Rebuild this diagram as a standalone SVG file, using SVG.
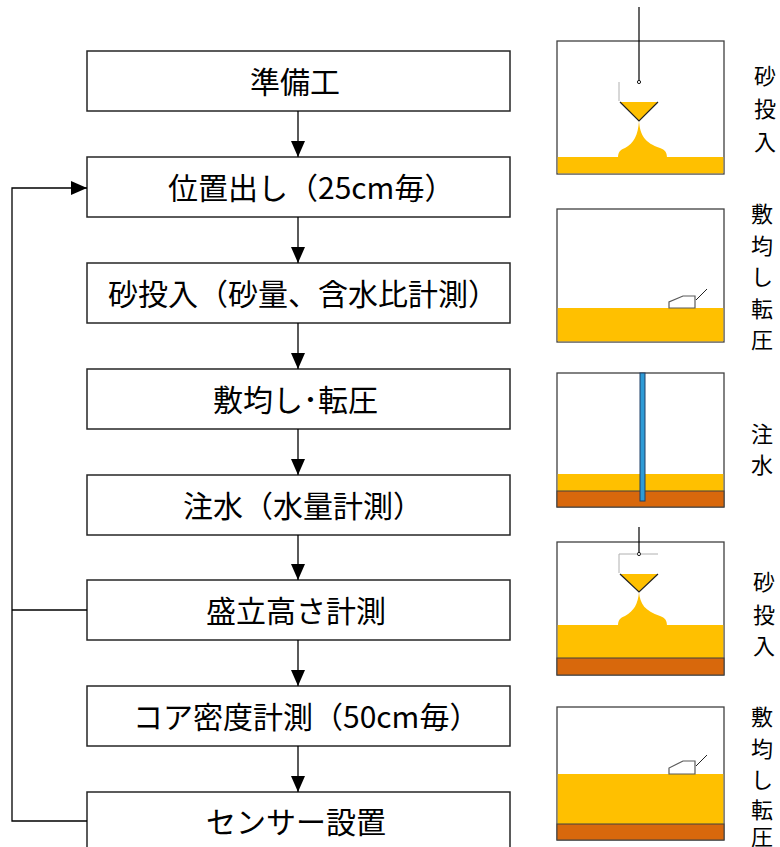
<svg xmlns="http://www.w3.org/2000/svg" width="780" height="847" viewBox="0 0 780 847">
  <defs>
    <style>
      .box { fill: #ffffff; stroke: #262626; stroke-width: 1.5; }
      .label { font-family: "Noto Sans CJK JP", "Noto Sans", sans-serif; font-size: 30px; fill: #000; dominant-baseline: central; }
      .vlabel { font-family: "Noto Sans CJK JP", "Noto Sans", sans-serif; font-size: 22px; fill: #000; text-anchor: middle; dominant-baseline: central; }
      .conn { fill: none; stroke: #000; stroke-width: 1.3; }
      .frame { fill: #ffffff; stroke: #404040; stroke-width: 1.3; }
      .sand { fill: #FFC000; }
      .base { fill: #D8680C; stroke: #404040; stroke-width: 1; }
      .roller { fill: #ffffff; stroke: #5a5a5a; stroke-width: 1.2; }
      .guide { fill: none; stroke: #b0b0b0; stroke-width: 1; }
    </style>
    <marker id="arrow" viewBox="0 0 16 14" refX="16" refY="7" markerWidth="16" markerHeight="14" markerUnits="userSpaceOnUse" orient="auto">
      <path d="M0,0 L16,7 L0,14 Z" fill="#000"/>
    </marker>
  </defs>

  <!-- flow steps -->
  <g id="step1"><rect class="box" x="87" y="51" width="423" height="60"/><text class="label" x="250" y="80">準備工</text></g>
  <g id="step2"><rect class="box" x="87" y="157" width="423" height="60"/><text class="label" x="168" y="186">位置出し（25cm毎）</text></g>
  <g id="step3"><rect class="box" x="87" y="263" width="423" height="60"/><text class="label" x="108" y="292">砂投入（砂量、含水比計測）</text></g>
  <g id="step4"><rect class="box" x="87" y="369" width="423" height="60"/><text class="label" x="213" y="398">敷均し･転圧</text></g>
  <g id="step5"><rect class="box" x="87" y="475" width="423" height="60"/><text class="label" x="183" y="504">注水（水量計測）</text></g>
  <g id="step6"><rect class="box" x="87" y="580" width="423" height="60"/><text class="label" x="206" y="609">盛立高さ計測</text></g>
  <g id="step7"><rect class="box" x="87" y="686" width="423" height="60"/><text class="label" x="133" y="715">コア密度計測（50cm毎）</text></g>
  <g id="step8"><rect class="box" x="87" y="792" width="423" height="60"/><text class="label" x="206" y="820">センサー設置</text></g>

  <!-- connectors -->
  <g id="connectors">
    <line class="conn" x1="298" y1="111" x2="298" y2="157" marker-end="url(#arrow)"/>
    <line class="conn" x1="298" y1="217" x2="298" y2="263" marker-end="url(#arrow)"/>
    <line class="conn" x1="298" y1="323" x2="298" y2="369" marker-end="url(#arrow)"/>
    <line class="conn" x1="298" y1="429" x2="298" y2="475" marker-end="url(#arrow)"/>
    <line class="conn" x1="298" y1="535" x2="298" y2="580" marker-end="url(#arrow)"/>
    <line class="conn" x1="298" y1="640" x2="298" y2="686" marker-end="url(#arrow)"/>
    <line class="conn" x1="298" y1="746" x2="298" y2="792" marker-end="url(#arrow)"/>
    <!-- repeat loop back to setting-out -->
    <path class="conn" d="M87,821 H12 V188 H87" marker-end="url(#arrow)"/>
    <line class="conn" x1="12" y1="610" x2="87" y2="610"/>
  </g>

  <!-- panel 1: sand pouring -->
  <g id="panel1">
    <rect class="frame" x="557" y="41" width="167" height="133"/>
    <rect class="sand" x="557.7" y="157" width="165.6" height="16.3"/>
    <path class="sand" d="M639,121 C640,135 645,143 660,148 C665,150 667,152 667,158 L618,158 C618,152 620,150 625,148 C634,143 638,135 639,121 Z"/>
    <line x1="639" y1="7" x2="639" y2="80.5" stroke="#000" stroke-width="1.2"/>
    <circle cx="639" cy="82" r="1.6" fill="#fff" stroke="#000" stroke-width="0.9"/>
    <line class="guide" x1="619" y1="82" x2="619" y2="101"/>
    <polygon class="sand" points="620,102 658,102 639,121"/>
    <polyline points="620,102 639,121 658,102" fill="none" stroke="#222" stroke-width="1.2"/>
    <text class="vlabel" x="765" y="74">砂</text>
    <text class="vlabel" x="765" y="107">投</text>
    <text class="vlabel" x="765" y="140">入</text>
  </g>

  <!-- panel 2: spreading and rolling -->
  <g id="panel2">
    <rect class="frame" x="557" y="209" width="167" height="133"/>
    <rect class="sand" x="557.7" y="308" width="165.6" height="33.3"/>
    <polygon class="roller" points="669,308 669,302 683,296 695,296 695,308"/>
    <line x1="696" y1="300" x2="707" y2="289" stroke="#222" stroke-width="1"/>
    <text class="vlabel" x="762" y="212">敷</text>
    <text class="vlabel" x="762" y="244">均</text>
    <text class="vlabel" x="762" y="275">し</text>
    <text class="vlabel" x="762" y="307">転</text>
    <text class="vlabel" x="762" y="338">圧</text>
  </g>

  <!-- panel 3: water injection -->
  <g id="panel3">
    <rect class="frame" x="557" y="373" width="167" height="134"/>
    <rect class="sand" x="557.7" y="474" width="165.6" height="17"/>
    <rect class="base" x="557" y="491" width="167" height="16"/>
    <rect x="640" y="373" width="5" height="128" fill="#2E9BD6" stroke="#1F3F66" stroke-width="1"/>
    <text class="vlabel" x="762" y="432">注</text>
    <text class="vlabel" x="762" y="463">水</text>
  </g>

  <!-- panel 4: sand pouring, second lift -->
  <g id="panel4">
    <rect class="frame" x="557" y="542" width="167" height="133"/>
    <rect class="sand" x="557.7" y="625" width="165.6" height="33"/>
    <rect class="base" x="557" y="658" width="167" height="17"/>
    <path class="sand" d="M639,592 C640,604 645,611 660,616 C665,618 667,620 667,626 L618,626 C618,620 620,618 625,616 C634,611 638,604 639,592 Z"/>
    <line x1="639" y1="527" x2="639" y2="552.5" stroke="#000" stroke-width="1.2"/>
    <circle cx="639" cy="554" r="1.6" fill="#fff" stroke="#000" stroke-width="0.9"/>
    <polyline class="guide" points="619,573 619,554 637.4,554"/>
    <line class="guide" x1="640.6" y1="554" x2="658" y2="554"/>
    <polygon class="sand" points="620,574 658,574 639,592"/>
    <polyline points="620,574 639,592 658,574" fill="none" stroke="#222" stroke-width="1.2"/>
    <text class="vlabel" x="764" y="580">砂</text>
    <text class="vlabel" x="764" y="613">投</text>
    <text class="vlabel" x="764" y="644">入</text>
  </g>

  <!-- panel 5: spreading and rolling, second lift -->
  <g id="panel5">
    <rect class="frame" x="557" y="707" width="167" height="133"/>
    <rect class="sand" x="557.7" y="774" width="165.6" height="50"/>
    <rect class="base" x="557" y="824" width="167" height="16"/>
    <polygon class="roller" points="669,774 669,768 683,761 695,761 695,774"/>
    <line x1="696" y1="766" x2="707" y2="755" stroke="#222" stroke-width="1"/>
    <text class="vlabel" x="762" y="715">敷</text>
    <text class="vlabel" x="762" y="747">均</text>
    <text class="vlabel" x="762" y="778">し</text>
    <text class="vlabel" x="762" y="808">転</text>
    <text class="vlabel" x="762" y="835">圧</text>
  </g>
</svg>
